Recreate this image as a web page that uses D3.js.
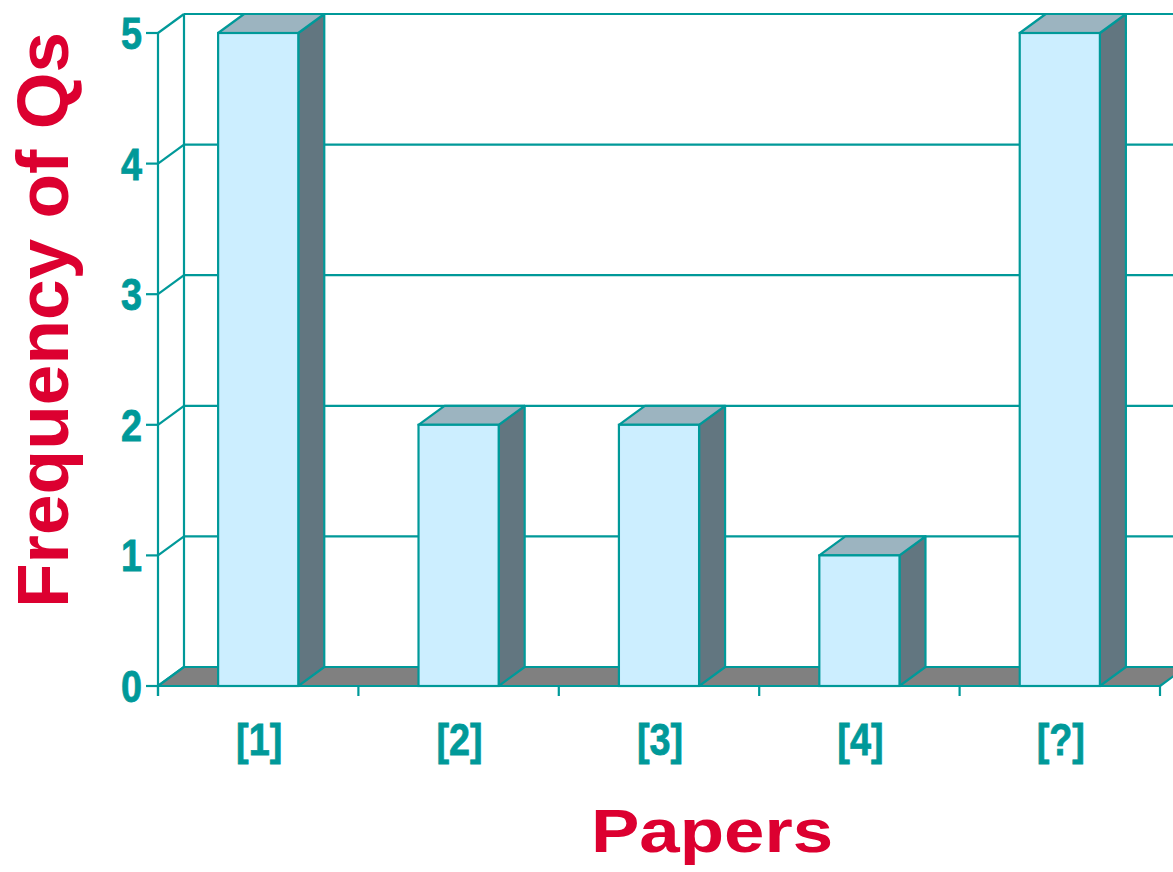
<!DOCTYPE html>
<html>
<head>
<meta charset="utf-8">
<script src="https://cdn.jsdelivr.net/npm/d3@7"></script>
<style>
  html, body { margin: 0; padding: 0; background: #fff; }
  svg { display: block; }
  text { font-family: "Liberation Sans", Arial, Helvetica, sans-serif; font-weight: bold; }
</style>
</head>
<body>
<svg id="chart" width="1173" height="872"></svg>
<script>
// Question counts per paper
const papers = ["[1]", "[2]", "[3]", "[4]", "[?]"];
const frequency = [5, 2, 2, 1, 5];
const yTicks = [0, 1, 2, 3, 4, 5];

const teal = "#009999";
const red = "#dc0030";
const frontFill = "#cceeff";
const sideFill = "#627680";
const topFill = "#9cb4c0";
const floorFill = "#808080";
const sw = 2.2;

// depth offset of the 3D box
const dx = 26, dy = -19;

const svg = d3.select("#chart");

const x = d3.scaleBand().domain(papers).range([158, 1160]).paddingInner(0).paddingOuter(0);
const y = d3.scaleLinear().domain([0, 5]).range([686, 33]);
const bw = x.bandwidth() * 0.4;
const x0 = x.range()[0], x1 = x.range()[1];

// back wall gridlines
svg.append("g").selectAll("line").data(yTicks).join("line")
  .attr("x1", x0 + dx).attr("x2", 1200)
  .attr("y1", d => y(d) + dy).attr("y2", d => y(d) + dy)
  .attr("stroke", teal).attr("stroke-width", sw);

// back wall vertical edge
svg.append("line")
  .attr("x1", x0 + dx).attr("x2", x0 + dx)
  .attr("y1", y(5) + dy).attr("y2", y(0) + dy)
  .attr("stroke", teal).attr("stroke-width", sw);

// side wall connectors from front axis to back wall
svg.append("g").selectAll("line").data(yTicks).join("line")
  .attr("x1", x0).attr("y1", d => y(d))
  .attr("x2", x0 + dx).attr("y2", d => y(d) + dy)
  .attr("stroke", teal).attr("stroke-width", sw);

// floor
svg.append("path")
  .attr("d", `M${x0},${y(0)} L${x1},${y(0)} L${x1 + dx},${y(0) + dy} L${x0 + dx},${y(0) + dy} Z`)
  .attr("fill", floorFill).attr("stroke", teal).attr("stroke-width", sw).attr("stroke-linejoin", "round");

// bars
const bars = svg.append("g").selectAll("g").data(papers.map((p, i) => ({ p, v: frequency[i] }))).join("g");
bars.each(function (d) {
  const g = d3.select(this);
  const bx = x(d.p) + (x.bandwidth() - bw) / 2;
  const top = y(d.v), base = y(0);
  g.append("path")
    .attr("d", `M${bx + bw},${base} L${bx + bw + dx},${base + dy} L${bx + bw + dx},${top + dy} L${bx + bw},${top} Z`)
    .attr("fill", sideFill).attr("stroke", teal).attr("stroke-width", sw).attr("stroke-linejoin", "round");
  g.append("path")
    .attr("d", `M${bx},${top} L${bx + dx},${top + dy} L${bx + bw + dx},${top + dy} L${bx + bw},${top} Z`)
    .attr("fill", topFill).attr("stroke", teal).attr("stroke-width", sw).attr("stroke-linejoin", "round");
  g.append("rect")
    .attr("x", bx).attr("y", top).attr("width", bw).attr("height", base - top)
    .attr("fill", frontFill).attr("stroke", teal).attr("stroke-width", sw);
});

// front axes
svg.append("line").attr("x1", x0).attr("x2", x0).attr("y1", y(5)).attr("y2", y(0) + 10)
  .attr("stroke", teal).attr("stroke-width", sw);
svg.append("line").attr("x1", x0).attr("x2", x1).attr("y1", y(0)).attr("y2", y(0))
  .attr("stroke", teal).attr("stroke-width", sw);

// y ticks and labels
svg.append("g").selectAll("line").data(yTicks).join("line")
  .attr("x1", x0 - 12).attr("x2", x0).attr("y1", d => y(d)).attr("y2", d => y(d))
  .attr("stroke", teal).attr("stroke-width", sw);
svg.append("g").selectAll("text").data(yTicks).join("text")
  .attr("transform", d => `translate(142,${y(d) + 16}) scale(0.84,1)`)
  .attr("text-anchor", "end").attr("font-size", 45).attr("fill", teal)
  .attr("stroke", teal).attr("stroke-width", 0.8)
  .text(d => d);

// x ticks at band boundaries
const bounds = papers.map(p => x(p)).concat([x1]);
svg.append("g").selectAll("line").data(bounds).join("line")
  .attr("x1", d => d).attr("x2", d => d).attr("y1", y(0)).attr("y2", y(0) + 10)
  .attr("stroke", teal).attr("stroke-width", sw);
svg.append("g").selectAll("text").data(papers).join("text")
  .attr("transform", d => `translate(${x(d) + x.bandwidth() / 2 + 1},755) scale(0.84,1)`)
  .attr("text-anchor", "middle").attr("font-size", 45).attr("fill", teal)
  .attr("stroke", teal).attr("stroke-width", 0.8)
  .text(d => d);

// axis titles
svg.append("text")
  .attr("transform", "translate(712,852) scale(1.19,1)")
  .attr("text-anchor", "middle").attr("font-size", 61).attr("fill", red)
  .text("Papers");
svg.append("text")
  .attr("transform", "translate(68,320) rotate(-90)")
  .attr("text-anchor", "middle").attr("font-size", 73).attr("fill", red)
  .text("Frequency of Qs");
</script>
</body>
</html>
